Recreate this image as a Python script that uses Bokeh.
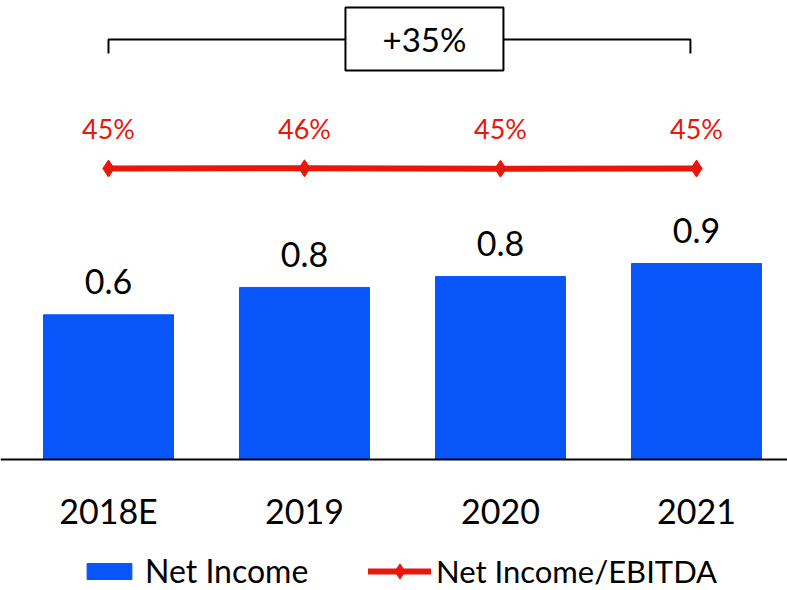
from bokeh.plotting import figure
from bokeh.models import (Range1d, FixedTicker, ColumnDataSource, LabelSet, Legend,
                          LegendItem, Label)
from bokeh.core.properties import value
from bokeh.embed import file_html
from bokeh.resources import INLINE

# ---- data ----
years = ["2018E", "2019", "2020", "2021"]
net_income = [0.635, 0.755, 0.803, 0.86]          # bn
ni_ebitda = [45.4, 45.6, 45.2, 45.3]              # %

BLUE = "#0856F9"
RED = "#E8170A"
FONT = "Lato"

xs = list(range(len(years)))
src = ColumnDataSource(dict(
    x=xs,
    ni=net_income,
    ni_lbl=[f"{v:.1f}" for v in net_income],
    ratio=ni_ebitda,
    ratio_lbl=[f"{v:.0f}%" for v in ni_ebitda],
))

W, H = 787, 590
BASE = 459          # pixel row of the zero line
PX_X = 196          # pixels per category
PX_Y = 227.9        # pixels per unit of net income
p = figure(width=W, height=H, output_backend="svg", toolbar_location=None,
           x_range=Range1d(-108 / PX_X, -108 / PX_X + W / PX_X),
           y_range=Range1d(-(H - BASE) / PX_Y, BASE / PX_Y),
           min_border=0)
p.extra_y_ranges = {"ratio": Range1d(45.4 - (H - 168), 45.4 - (H - 168) + H)}
p.outline_line_color = None
p.grid.visible = False
p.yaxis.visible = False
p.background_fill_color = "white"
p.border_fill_color = "white"

xa = p.xaxis[0]
xa.fixed_location = 0
xa.ticker = FixedTicker(ticks=xs)
xa.major_label_overrides = {i: y for i, y in enumerate(years)}
xa.major_tick_line_color = None
xa.minor_tick_line_color = None
xa.axis_line_color = "black"
xa.axis_line_width = 2
xa.major_label_text_font = FONT
xa.major_label_text_font_size = "34px"
xa.major_label_text_color = "black"
xa.major_label_standoff = 24

bars = p.vbar(x="x", top="ni", bottom=0, width=130 / PX_X, color=BLUE, source=src)

p.add_layout(LabelSet(x="x", y="ni", text="ni_lbl", source=src, y_offset=33,
                      text_align="center", text_baseline="middle",
                      text_font=value(FONT), text_font_size="34px", text_color="black"))

line_r = p.line(x="x", y="ratio", source=src, y_range_name="ratio",
                line_width=6, line_color=RED, line_cap="round")
dots = p.scatter(x="x", y="ratio", source=src, y_range_name="ratio",
                 marker="diamond", size=17, fill_color=RED, line_color=RED)
p.add_layout(LabelSet(x="x", y="ratio", text="ratio_lbl", source=src, y_range_name="ratio",
                      y_offset=40, text_align="center", text_baseline="middle",
                      text_font=value(FONT), text_font_size="27px", text_color=RED))

# growth bracket
x0, x1 = xs[0], xs[-1] - 0.031
yb, yt = 1.781, 1.843
p.line(x=[x0, x0, x1, x1], y=[yb, yt, yt, yb], line_color="black", line_width=2)
bx0, bx1, by0, by1 = 1.209, 2.015, 1.707, 1.983
p.quad(left=[bx0], right=[bx1], bottom=[by0], top=[by1],
       fill_color="white", line_color="black", line_width=2)
growth = (net_income[-1] / net_income[0] - 1) * 100
p.add_layout(Label(x=(bx0 + bx1) / 2, y=(by0 + by1) / 2, text=f"+{growth:.0f}%",
                   text_align="center", text_baseline="middle",
                   text_font=FONT, text_font_size="33px", text_color="black"))

# legends
common = dict(orientation="horizontal", padding=0, margin=0, border_line_color=None,
              background_fill_alpha=0, label_text_font=FONT, label_text_color="black")
leg1 = Legend(items=[LegendItem(label="Net Income", renderers=[bars])],
              location=(81, 0), glyph_width=56, glyph_height=20, label_standoff=8,
              label_text_font_size="32px", **common)
leg2 = Legend(items=[LegendItem(label="Net Income/EBITDA", renderers=[line_r, dots])],
              location=(368, 0), glyph_width=63, glyph_height=38, label_standoff=5,
              label_text_font_size="31px", **common)
p.add_layout(leg1)
p.add_layout(leg2)

open("out.html", "w").write(file_html(p, INLINE))
